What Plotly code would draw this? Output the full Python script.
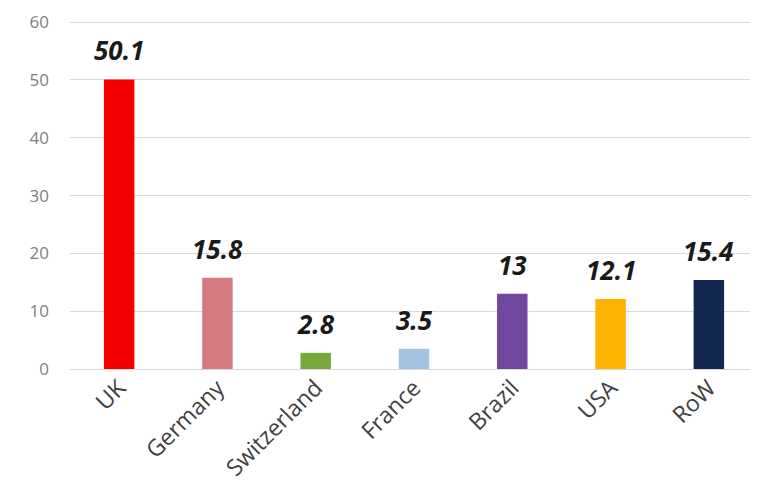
import plotly.graph_objects as go

categories = ["UK", "Germany", "Switzerland", "France", "Brazil", "USA", "RoW"]
values = [50.1, 15.8, 2.8, 3.5, 13, 12.1, 15.4]
labels = ["50.1", "15.8", "2.8", "3.5", "13", "12.1", "15.4"]
colors = ["#F50000", "#D27A7E", "#78A83C", "#A7C3E2", "#7148A0", "#FDB300", "#12284F"]
y_ticks = [0, 10, 20, 30, 40, 50, 60]

fig = go.Figure()
fig.add_trace(go.Bar(x=categories, y=values, marker=dict(color=colors, line=dict(width=0)),
                     hoverinfo="x+y"))

for c, v, t in zip(categories, values, labels):
    fig.add_annotation(x=c, y=v, text="<b><i>" + t + "</i></b>", showarrow=False,
                       yanchor="bottom", yshift=9,
                       font=dict(family="Open Sans, Liberation Sans, sans-serif", size=26, color="#1a1a1a"))

fig.update_layout(
    width=750, height=483,
    margin=dict(l=62, r=0, t=13, b=122),
    paper_bgcolor="white", plot_bgcolor="white",
    bargap=0.69,
    showlegend=False,
    font=dict(family="Open Sans, Liberation Sans, sans-serif", color="#595959"),
)
fig.update_xaxes(tickangle=-45, tickfont=dict(size=23, color="#404040"), showgrid=False,
                 showline=False, ticks="", automargin=False)
fig.update_yaxes(range=[0, 60.2], tickvals=y_ticks, showgrid=True, gridcolor="#D9D9D9",
                 gridwidth=1, zeroline=True, zerolinecolor="#D9D9D9", zerolinewidth=1,
                 tickfont=dict(size=17, color="#7f7f7f"), ticklabelstandoff=20,
                 ticklabeloverflow="allow", automargin=False)

fig.write_html("out.html")
